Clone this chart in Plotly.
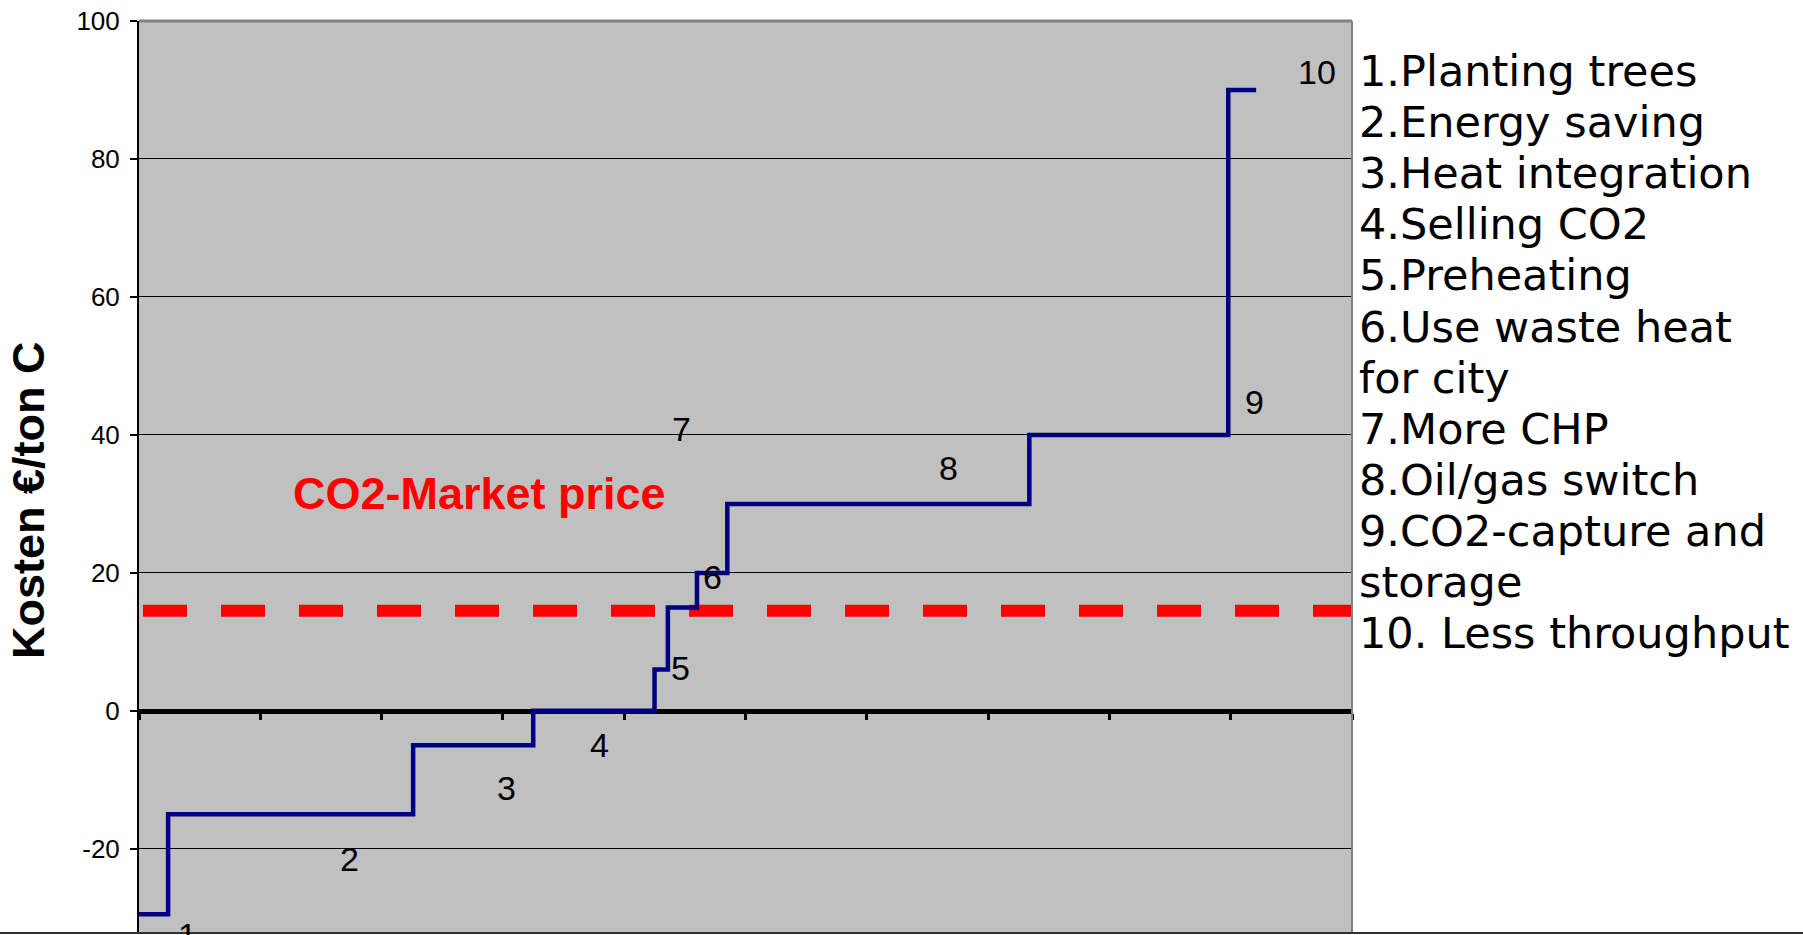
import plotly.graph_objects as go

# ---------------- data ----------------
# cumulative reduction boundaries of each measure (arbitrary units on x)
step_bounds = [0, 0.24, 2.26, 3.25, 4.25, 4.36, 4.60, 4.85, 7.34, 8.98, 9.21]
# cost of each measure (Kosten EUR / ton CO2)
step_cost = [-29.5, -15, -5, 0, 6, 15, 20, 30, 40, 90]
market_price = 14.5

measure_ids = ["1", "2", "3", "4", "5", "6", "7", "8", "9", "10"]
label_x = [0.396, 1.739, 3.026, 3.80, 4.46, 4.73, 4.47, 6.67, 9.20, 9.71]
label_y = [-29.4, -21.5, -11.2, -5.0, 6.2, 19.4, 40.8, 35.2, 44.7, 92.6]
label_anchor = ["top", "middle", "middle", "middle", "middle",
                "middle", "middle", "middle", "middle", "middle"]

legend_lines = [
    "1.Planting trees",
    "2.Energy saving",
    "3.Heat integration",
    "4.Selling CO2",
    "5.Preheating",
    "6.Use waste heat",
    "for city",
    "7.More CHP",
    "8.Oil/gas switch",
    "9.CO2-capture and",
    "storage",
    "10. Less throughput",
]

y_ticks = [-20, 0, 20, 40, 60, 80, 100]
y_ticktext = ["-20", "0", "20", "40", "60", "80", "100"]
x_ticks = list(range(0, 11))
x_range = [0, 10]
y_range = [-32.2, 100]

# ---------------- layout geometry ----------------
W, H = 1803, 935
ML, MR, MT, MB = 139, 1803 - 1352, 21, 2
PW, PH = W - ML - MR, H - MT - MB


def px_to_paper_x(px):
    return (px - ML) / PW


def px_to_paper_y(py):
    return (H - MB - py) / PH


fig = go.Figure()

# market price dashed line
fig.add_trace(go.Scatter(
    x=x_range, y=[market_price, market_price], mode="lines",
    line=dict(color="#FF0000", width=12, dash="0px,4px,44px,30px"),
    hoverinfo="skip", showlegend=False,
))

# cost curve (step)
fig.add_trace(go.Scatter(
    x=step_bounds, y=step_cost + [step_cost[-1]], mode="lines",
    line=dict(color="#000080", width=4.5, shape="hv"),
    showlegend=False,
))

annotations = []
label_font = dict(family="Liberation Sans, Arial", size=34, color="black")
for t, lx, ly, ya in zip(measure_ids, label_x, label_y, label_anchor):
    annotations.append(dict(
        x=lx, y=ly, xref="x", yref="y", text=t, showarrow=False,
        xanchor="center", yanchor=ya, font=label_font,
    ))

# market price label
annotations.append(dict(
    x=px_to_paper_x(479), y=px_to_paper_y(493), xref="paper", yref="paper",
    text="<b>CO2-Market price</b>", showarrow=False, xanchor="center", yanchor="middle",
    font=dict(family="Liberation Sans, Arial", size=45, color="#FF0000"),
))

# y-axis title
annotations.append(dict(
    x=px_to_paper_x(28), y=px_to_paper_y(500), xref="paper", yref="paper",
    text="<b>Kosten €/ton C</b>", showarrow=False, textangle=-90,
    xanchor="center", yanchor="middle",
    font=dict(family="Liberation Sans, Arial", size=45, color="black"),
))

# right-hand list
for i, line in enumerate(legend_lines):
    annotations.append(dict(
        x=px_to_paper_x(1357), y=px_to_paper_y(71 + 51.1 * i), xref="paper", yref="paper",
        text=line, showarrow=False, xanchor="left", yanchor="middle",
        font=dict(family="DejaVu Sans, Verdana, sans-serif", size=43, color="black"),
    ))

shapes = [
    # top border
    dict(type="line", xref="paper", yref="paper", x0=0, x1=1, y0=1, y1=1,
         line=dict(color="#808080", width=3)),
    # right border
    dict(type="line", xref="paper", yref="paper", x0=1, x1=1, y0=0, y1=1,
         line=dict(color="#808080", width=2)),
    # bottom frame line across the whole picture
    dict(type="line", xref="paper", yref="paper", x0=px_to_paper_x(0), x1=px_to_paper_x(W),
         y0=0, y1=0, line=dict(color="#303030", width=2)),
]

zero_pos = (0 - y_range[0]) / (y_range[1] - y_range[0])

fig.update_layout(
    width=W, height=H,
    margin=dict(l=ML, r=MR, t=MT, b=MB, pad=0),
    paper_bgcolor="white", plot_bgcolor="#C0C0C0",
    showlegend=False,
    annotations=annotations, shapes=shapes,
    xaxis=dict(
        range=x_range, tickvals=x_ticks, showticklabels=False,
        showgrid=False, zeroline=False,
        showline=True, linecolor="black", linewidth=5,
        anchor="free", position=zero_pos,
        ticks="outside", ticklen=6, tickwidth=3, tickcolor="black",
        layer="below traces", fixedrange=True,
    ),
    yaxis=dict(
        range=y_range, tickvals=y_ticks, ticktext=y_ticktext,
        showgrid=True, gridcolor="black", gridwidth=1.2, zeroline=False,
        showline=True, linecolor="black", linewidth=2,
        ticks="outside", ticklen=7, tickwidth=2, tickcolor="black",
        ticklabelstandoff=5,
        tickfont=dict(family="Liberation Sans, Arial", size=26, color="black"),
        layer="below traces", fixedrange=True,
    ),
)

fig.write_html("out.html")
